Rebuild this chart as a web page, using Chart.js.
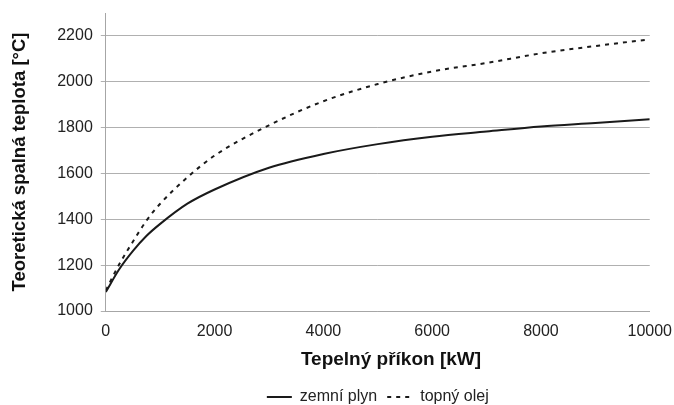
<!DOCTYPE html>
<html>
<head>
<meta charset="utf-8">
<script src="https://cdn.jsdelivr.net/npm/chart.js@4/dist/chart.umd.min.js"></script>
<style>
  html, body { margin: 0; padding: 0; background: #fff; }
  #wrap { width: 674px; height: 405px; }
</style>
</head>
<body>
<div id="wrap"><canvas id="chart" width="674" height="405"></canvas></div>
<script>
// Tepelný příkon [kW]
const loadKw = [0, 250, 500, 750, 1000, 1500, 2000, 3000, 4000, 5000, 6000, 7000, 8000, 9000, 10000];
// Teoretická spalná teplota [°C]
const gasTemp = [1083, 1183, 1262, 1328, 1380, 1468, 1530, 1625, 1685, 1728, 1760, 1783, 1805, 1820, 1836];
const oilTemp = [1090, 1205, 1303, 1395, 1468, 1583, 1678, 1810, 1915, 1990, 2045, 2082, 2124, 2156, 2185];
const xTicks = [0, 2000, 4000, 6000, 8000, 10000];
const yTicks = [1000, 1200, 1400, 1600, 1800, 2000, 2200];

const fontFamily = '"Liberation Sans", Arial, sans-serif';

function toPoints(values) {
    return loadKw.map((kw, i) => ({ x: kw, y: values[i] }));
}

new Chart(document.getElementById('chart'), {
    type: 'line',
    data: {
        datasets: [{
            label: 'zemní plyn',
            data: toPoints(gasTemp),
            borderColor: '#1a1a1a',
            borderWidth: 2,
            pointRadius: 0,
            cubicInterpolationMode: 'monotone',
            fill: false
        },
        {
            label: 'topný olej',
            data: toPoints(oilTemp),
            borderColor: '#1a1a1a',
            borderWidth: 2,
            borderDash: [4, 5],
            pointRadius: 0,
            cubicInterpolationMode: 'monotone',
            fill: false
        }]
    },
    options: {
        responsive: false,
        animation: false,
        layout: {
            padding: { left: 9, right: 0, top: 13, bottom: -10 }
        },
        plugins: {
            legend: {
                position: 'bottom',
                fullSize: false,
                labels: {
                    usePointStyle: true,
                    pointStyle: 'line',
                    pointStyleWidth: 25,
                    color: '#222',
                    padding: 10,
                    font: { family: fontFamily, size: 16 },
                    generateLabels: function(chart) {
                        const items = Chart.defaults.plugins.legend.labels.generateLabels(chart);
                        items.forEach(item => {
                            const ds = chart.data.datasets[item.datasetIndex];
                            item.lineDash = ds.borderDash || [];
                            item.lineWidth = 2;
                            item.strokeStyle = ds.borderColor;
                        });
                        return items;
                    }
                }
            },
            tooltip: { enabled: false }
        },
        scales: {
            x: {
                type: 'linear',
                min: 0,
                max: 10000,
                afterBuildTicks: function(scale) {
                    scale.ticks = xTicks.map(v => ({ value: v }));
                },
                grid: {
                    drawOnChartArea: false,
                    drawTicks: true,
                    tickLength: 9,
                    tickColor: 'rgba(0,0,0,0)'
                },
                border: { color: '#a6a6a6' },
                ticks: {
                    color: '#222',
                    padding: 2,
                    maxRotation: 0,
                    font: { family: fontFamily, size: 16 },
                    callback: function(value) { return String(value); }
                },
                title: {
                    display: true,
                    text: '\u00a0\u00a0\u00a0\u00a0\u00a0Tepelný příkon [kW]',
                    color: '#111',
                    padding: { top: 5, bottom: 8 },
                    font: { family: fontFamily, size: 19, weight: 'bold' }
                }
            },
            y: {
                min: 1000,
                max: 2300,
                afterBuildTicks: function(scale) {
                    scale.ticks = yTicks.map(v => ({ value: v }));
                },
                grid: {
                    color: '#b0b0b0',
                    tickLength: 5
                },
                border: { color: '#a6a6a6' },
                ticks: {
                    color: '#222',
                    padding: 8,
                    font: { family: fontFamily, size: 16, lineHeight: 0.6 },
                    callback: function(value) { return String(value); }
                },
                title: {
                    display: true,
                    text: 'Teoretická spalná teplota [°C]',
                    color: '#111',
                    padding: { top: 0, bottom: 18 },
                    font: { family: fontFamily, size: 18.5, weight: 'bold' }
                }
            }
        }
    }
});
</script>
</body>
</html>
